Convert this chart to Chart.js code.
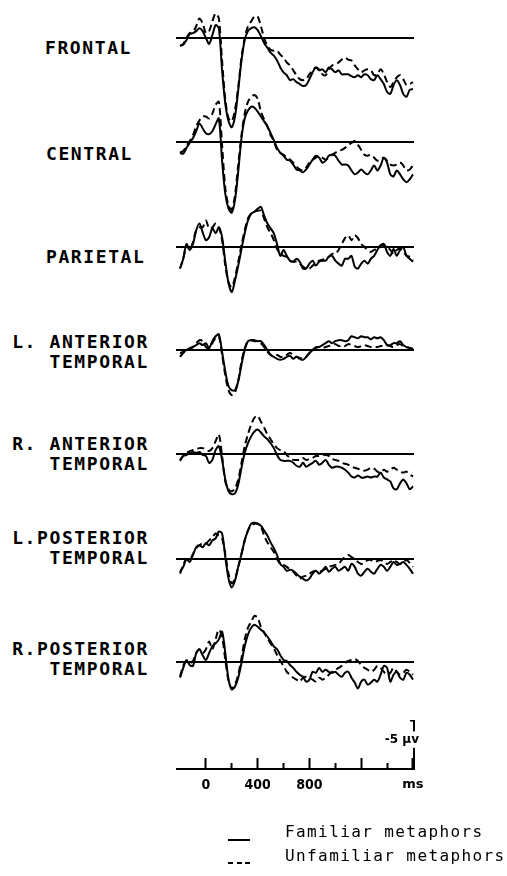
<!DOCTYPE html>
<html>
<head>
<meta charset="utf-8">
<title>ERP waveforms - familiar vs unfamiliar metaphors</title>
<script src="https://cdn.jsdelivr.net/npm/chart.js@4.4.1/dist/chart.umd.min.js"></script>
<style>
  html, body { margin:0; padding:0; background:#fff; }
  #page { position:relative; width:507px; height:876px; overflow:hidden; background:#fff; }
  canvas { position:absolute; left:176px; }
  .lbl { position:absolute; font:bold 18px 'DejaVu Sans Mono', monospace; letter-spacing:1.6px; line-height:20px; white-space:pre; color:#000; }
  .lbl.r { text-align:right; right:358px; }
  .leg { position:absolute; left:285px; font:16px 'DejaVu Sans Mono', monospace; letter-spacing:1.4px; line-height:18px; white-space:pre; color:#000; }
  .sample { position:absolute; left:228px; width:22px; height:2px; }
</style>
</head>
<body>
<div id="page">
  <div class="lbl" style="left:45px;top:38px">FRONTAL</div>
  <div class="lbl" style="left:46px;top:144px">CENTRAL</div>
  <div class="lbl" style="left:46px;top:247px">PARIETAL</div>
  <div class="lbl r" style="top:332px">L. ANTERIOR<br>TEMPORAL</div>
  <div class="lbl r" style="top:434px">R. ANTERIOR<br>TEMPORAL</div>
  <div class="lbl r" style="top:528px">L.POSTERIOR<br>TEMPORAL</div>
  <div class="lbl r" style="top:639px">R.POSTERIOR<br>TEMPORAL</div>

  <canvas id="p0" width="238" height="147" style="top:-11px"></canvas>
  <canvas id="p1" width="238" height="147" style="top:93px"></canvas>
  <canvas id="p2" width="238" height="147" style="top:198px"></canvas>
  <canvas id="p3" width="238" height="147" style="top:301px"></canvas>
  <canvas id="p4" width="238" height="147" style="top:405px"></canvas>
  <canvas id="p5" width="238" height="147" style="top:510px"></canvas>
  <canvas id="p6" width="238" height="147" style="top:613px"></canvas>
  <canvas id="axis" width="258" height="89" style="top:720px"></canvas>

  <div class="sample" style="top:839px;background:#000"></div>
  <div class="leg" style="top:823px">Familiar metaphors</div>
  <div class="sample" style="top:862px;background:repeating-linear-gradient(90deg,#000 0 5px,transparent 5px 8.5px)"></div>
  <div class="leg" style="top:847px">Unfamiliar metaphors</div>
</div>
<script>
// time points (ms), one every 25 ms
const times = [-200,-175,-150,-125,-100,-75,-50,-25,
  0,25,50,75,100,125,150,175,
  200,225,250,275,300,325,350,375,
  400,425,450,475,500,525,550,575,
  600,625,650,675,700,725,750,775,
  800,825,850,875,900,925,950,975,
  1000,1025,1050,1075,1100,1125,1150,1175,
  1200,1225,1250,1275,1300,1325,1350,1375,
  1400,1425,1450,1475,1500,1525,1550,1575,
  1600];

// amplitudes in microvolts (negative plotted up)
const frontalFam = [0.8,0.7,0.2,-0.4,-0.5,-0.7,-1.0,-0.7,
  0.0,0.6,-0.3,-1.3,-1.0,3.3,6.7,8.5,
  9.1,8.0,5.3,2.3,0.2,-0.7,-1.0,-1.1,
  -0.8,-0.2,0.5,1.0,1.5,1.8,2.3,3.0,
  3.5,3.8,4.3,4.2,4.5,4.7,4.9,4.8,
  4.2,3.5,3.0,3.3,3.2,3.5,3.0,3.2,
  3.5,3.3,3.7,3.7,3.7,3.9,4.0,3.8,
  4.0,3.7,3.8,4.2,4.3,3.8,4.2,4.7,
  5.5,5.7,4.8,4.3,4.8,5.7,6.0,5.3,
  5.2];
const frontalUnf = [0.8,0.6,0.0,-0.5,-0.6,-1.2,-2.0,-1.5,
  -0.5,-0.7,-1.7,-2.5,-2.0,2.3,6.3,8.2,
  8.5,7.3,5.0,2.0,0.0,-1.2,-1.7,-2.2,
  -2.2,-1.2,0.0,0.8,1.2,1.3,1.3,1.7,
  2.0,2.5,2.8,3.3,3.8,4.2,4.3,4.2,
  3.7,3.3,3.0,3.2,3.7,3.8,3.2,2.8,
  2.7,2.5,2.2,2.0,2.2,2.3,2.8,3.2,
  3.5,3.3,3.2,3.3,3.8,3.7,3.2,3.7,
  4.5,5.0,4.5,4.0,3.8,4.2,4.8,4.7,
  4.5];
const centralFam = [1.1,1.2,0.6,0.1,-0.4,-1.1,-1.9,-1.4,
  -0.9,-0.8,-1.1,-1.8,-2.4,1.9,5.3,6.8,
  7.2,5.9,3.0,-0.4,-2.4,-3.2,-3.6,-3.5,
  -3.1,-2.6,-2.1,-1.6,-0.9,-0.2,0.6,1.1,
  1.4,1.8,1.9,2.3,2.8,2.9,3.1,2.8,
  2.3,1.8,1.4,1.6,2.1,1.9,1.4,1.3,
  1.4,1.9,2.3,2.3,2.4,2.9,3.3,3.1,
  2.8,3.1,3.3,2.9,2.4,2.9,2.4,1.6,
  2.1,3.3,3.5,2.9,3.3,3.8,4.1,3.8,
  3.3];
const centralUnf = [1.1,0.9,0.4,-0.1,-0.7,-1.6,-2.2,-2.6,
  -2.6,-2.4,-2.9,-3.8,-4.1,0.3,4.7,6.5,
  6.9,5.4,2.3,-0.7,-2.9,-4.1,-4.6,-4.8,
  -4.4,-3.1,-2.3,-1.6,-0.7,-0.1,0.8,1.1,
  1.3,1.6,1.8,2.1,2.5,2.8,2.9,2.6,
  2.1,1.8,1.6,1.4,1.6,1.8,1.6,1.3,
  1.1,0.9,0.8,0.6,0.3,0.1,-0.1,0.3,
  0.8,1.3,1.4,1.3,1.6,1.9,1.8,1.6,
  1.9,2.3,2.4,2.3,2.1,2.4,2.9,2.8,
  2.4];
const parietalFam = [2.2,1.2,-0.3,0.3,-0.3,-1.7,-2.4,-1.5,
  -0.7,-1.0,-1.9,-1.4,-2.0,-1.0,1.5,3.7,
  4.6,3.4,1.9,0.2,-1.4,-2.7,-3.4,-3.6,
  -3.9,-4.1,-3.2,-2.4,-1.9,-1.4,-0.3,0.9,
  0.3,0.9,1.4,1.5,1.2,1.5,2.2,2.2,
  1.7,1.4,1.9,1.5,1.4,1.4,1.0,0.9,
  1.4,1.7,1.9,1.2,1.2,0.9,2.0,2.2,
  1.7,1.4,1.7,1.2,0.9,0.3,-0.2,-0.3,
  0.5,0.9,0.2,0.9,0.3,0.0,0.9,1.2,
  1.5];
const parietalUnf = [2.2,1.2,-0.2,0.3,-0.5,-1.7,-2.0,-2.0,
  -2.7,-1.9,-2.0,-2.4,-2.0,-0.7,1.9,3.6,
  4.1,3.1,1.5,-0.2,-1.7,-2.9,-3.4,-3.6,
  -3.7,-3.7,-2.9,-2.0,-1.4,-0.7,0.2,0.7,
  0.9,1.0,1.4,1.5,1.5,1.7,2.0,2.2,
  2.2,1.9,1.7,1.4,1.3,1.2,1.0,0.7,
  0.7,0.3,-0.3,-0.9,-1.2,-0.7,-1.2,-0.9,
  -0.3,0.0,0.3,0.5,0.3,0.2,0.0,-0.2,
  0.0,0.3,0.7,0.3,0.2,0.5,0.9,1.0,
  1.4];
const lAntTempFam = [0.3,0.2,0.0,-0.2,-0.3,-0.5,-0.7,-0.5,
  -0.7,-0.2,-0.9,-1.4,-1.6,0.2,2.2,3.7,
  4.1,4.1,3.2,1.5,0.0,-0.9,-1.0,-1.0,
  -0.9,-0.9,-0.5,0.0,0.5,0.7,0.9,1.0,
  0.9,0.7,0.6,0.9,0.7,0.9,1.0,0.7,
  0.3,0.0,-0.3,-0.3,-0.5,-0.7,-0.9,-0.7,
  -0.9,-1.0,-1.0,-0.9,-1.0,-1.4,-1.3,-1.2,
  -1.4,-1.3,-1.3,-1.1,-1.3,-1.2,-1.3,-1.0,
  -0.5,-0.5,-0.7,-0.7,-0.9,-0.5,-0.3,-0.2,
  -0.1];
const lAntTempUnf = [0.7,0.3,0.1,-0.1,-0.3,-0.7,-1.0,-0.9,
  -0.3,-0.2,-0.7,-1.2,-1.4,0.5,2.6,4.1,
  4.6,4.3,3.1,1.2,-0.2,-0.9,-1.0,-0.9,
  -0.9,-0.7,-0.3,0.2,0.5,0.7,0.5,0.7,
  0.7,0.5,0.3,0.5,0.7,0.8,0.9,0.7,
  0.3,0.0,-0.2,-0.3,-0.2,-0.3,-0.4,-0.5,
  -0.6,-0.4,-0.5,-0.4,-0.6,-0.5,-0.4,-0.3,
  -0.4,-0.5,-0.4,-0.3,-0.3,-0.3,-0.4,-0.4,
  -0.5,-0.4,-0.3,-0.5,-0.6,-0.4,-0.3,-0.2,
  -0.1];
const rAntTempFam = [0.6,0.2,0.1,-0.1,-0.2,-0.1,-0.2,0.1,
  0.2,0.9,0.6,-0.4,-0.8,0.6,2.6,3.8,
  4.1,4.0,3.1,1.4,-0.1,-1.1,-1.8,-2.3,
  -2.5,-2.2,-1.8,-1.5,-1.1,-0.6,0.1,0.6,
  0.7,0.7,0.7,0.9,1.2,1.3,0.9,1.3,
  1.1,0.9,0.7,1.1,0.9,0.6,1.1,1.4,
  1.3,1.3,1.4,1.6,1.9,2.3,2.4,2.2,
  2.4,2.4,2.3,2.4,2.3,2.3,1.9,2.4,
  2.6,2.8,3.5,3.6,3.0,2.6,3.0,3.6,
  3.3];
const rAntTempUnf = [0.7,0.2,-0.1,-0.3,-0.4,-0.5,-0.6,-0.6,
  -0.5,-0.3,-0.6,-1.3,-2.0,0.2,2.8,3.6,
  3.8,3.5,2.6,0.9,-0.8,-2.0,-3.0,-3.7,
  -3.9,-3.3,-2.7,-2.0,-1.5,-1.0,-0.6,-0.4,
  -0.3,0.1,0.4,0.6,0.6,0.6,0.4,0.6,
  0.5,0.4,0.2,0.2,0.1,0.1,0.2,0.5,
  0.6,0.7,0.9,1.0,1.1,1.3,1.4,1.5,
  1.6,1.7,1.6,1.4,1.5,1.8,1.9,1.6,
  1.8,1.6,1.4,1.6,1.8,1.9,1.8,2.1,
  2.3];
const lPostTempFam = [1.3,0.8,0.0,0.3,-0.4,-1.2,-1.4,-1.2,
  -1.6,-1.4,-1.9,-2.1,-2.8,-2.6,-0.2,2.0,
  2.9,2.2,0.8,-0.5,-1.9,-2.9,-3.6,-3.7,
  -3.6,-3.4,-2.9,-2.4,-1.7,-1.1,-0.4,0.5,
  0.8,1.2,1.1,1.2,1.5,1.8,2.0,2.2,
  2.0,1.5,1.2,1.5,1.2,0.8,1.3,1.0,
  0.8,1.2,1.0,0.8,1.2,0.5,0.8,1.5,
  1.7,1.3,1.0,1.3,1.5,1.0,0.6,0.8,
  1.2,0.8,0.3,0.6,0.5,0.3,0.6,1.0,
  1.5];
const lPostTempUnf = [1.5,0.6,0.0,0.1,-0.5,-1.1,-1.4,-1.6,
  -1.6,-1.9,-2.2,-2.6,-2.4,-2.1,-0.5,1.5,
  2.5,2.0,0.8,-0.5,-1.9,-2.9,-3.4,-3.6,
  -3.6,-3.3,-2.4,-1.7,-1.2,-0.7,0.0,0.5,
  0.6,0.8,1.1,1.3,1.7,2.0,1.8,1.7,
  1.5,1.3,1.2,1.3,1.2,1.0,0.8,0.7,
  0.6,0.5,0.1,-0.2,-0.4,-0.2,0.0,0.3,
  0.5,0.4,0.1,0.1,0.3,0.2,0.1,0.3,
  0.5,0.3,0.1,0.3,0.5,0.3,0.1,0.4,
  0.8];
const rPostTempFam = [1.6,0.6,-0.2,0.3,0.4,-0.9,-1.3,-0.7,
  -0.2,-0.9,-1.6,-1.9,-2.3,-3.1,-0.9,1.8,
  2.8,2.5,1.6,0.1,-1.6,-2.8,-3.5,-3.8,
  -3.6,-3.3,-3.0,-2.6,-2.1,-1.6,-1.3,-0.7,
  -0.2,-0.1,0.3,0.6,1.0,1.3,1.5,2.0,
  1.8,1.0,1.1,0.6,1.0,0.8,1.0,1.1,
  1.0,1.3,1.5,1.1,1.0,1.6,2.1,2.7,
  2.0,1.8,2.3,2.1,1.8,2.0,1.3,0.4,
  0.6,2.0,1.3,1.0,1.6,1.8,1.1,1.3,
  1.8];
const rPostTempUnf = [1.5,0.4,-0.1,0.1,-0.1,-0.9,-1.3,-0.9,
  -1.3,-2.1,-1.3,-2.3,-3.3,-2.6,-0.2,1.9,
  2.7,2.3,1.3,-0.4,-2.3,-3.5,-4.1,-4.7,
  -4.5,-3.6,-3.0,-2.4,-1.9,-1.4,-0.7,-0.1,
  0.4,1.0,1.3,1.6,1.8,2.0,1.6,1.5,
  1.6,1.8,2.0,1.6,1.8,1.6,1.3,1.0,
  0.8,0.6,0.4,0.1,-0.1,-0.2,-0.3,-0.1,
  0.3,0.6,0.8,1.0,0.8,0.4,0.6,1.0,
  1.3,1.1,0.6,1.0,1.3,1.1,0.8,1.0,
  1.3];

// time axis and calibration bar
const majorTicks = [0, 400, 800, 1200, 1600];
const majorLabels = ['0', '400', '800', '', 'ms'];
const minorTicks = [200, 600, 1000, 1400];
const scaleBarUV = -5;
const scaleBarLabelAt = -3;
const scaleBarText = '-5 \u00b5v';

const X_MIN = -231, X_MAX = 1608;

function pts(vals){ return times.map((t,i)=>({x:t, y:vals[i]})); }
function noPad(s){ s.paddingLeft = 0; s.paddingRight = 0; s.paddingTop = 0; s.paddingBottom = 0; }

function drawPanel(id, fam, unf){
  new Chart(document.getElementById(id), {
    type:'line',
    data:{ datasets:[
      {label:'Familiar metaphors', data:pts(fam), borderColor:'#000', borderWidth:2, pointRadius:0, tension:0.3},
      {label:'Unfamiliar metaphors', data:pts(unf), borderColor:'#000', borderWidth:2, borderDash:[7,4], pointRadius:0, tension:0.3}
    ]},
    options:{
      responsive:false, animation:false, events:[],
      layout:{padding:0, autoPadding:false},
      plugins:{legend:{display:false}, tooltip:{enabled:false}},
      scales:{
        x:{type:'linear', min:X_MIN, max:X_MAX, display:false},
        y:{min:-5, max:10, reverse:true,
           afterFit:s=>{ s.width = 0; noPad(s); },
           ticks:{display:false, stepSize:5},
           border:{display:false},
           grid:{drawTicks:false, lineWidth:2, color:c=>(c.tick && c.tick.value===0) ? '#000' : 'rgba(0,0,0,0)'}}
      }
    }
  });
}

drawPanel('p0', frontalFam, frontalUnf);
drawPanel('p1', centralFam, centralUnf);
drawPanel('p2', parietalFam, parietalUnf);
drawPanel('p3', lAntTempFam, lAntTempUnf);
drawPanel('p4', rAntTempFam, rAntTempUnf);
drawPanel('p5', lPostTempFam, lPostTempUnf);
drawPanel('p6', rPostTempFam, rPostTempUnf);

// time axis with upward ticks, plus the -5 uV calibration bar on the right
new Chart(document.getElementById('axis'), {
  type:'line',
  data:{ datasets:[] },
  options:{
    responsive:false, animation:false, events:[],
    layout:{padding:{left:0, top:0, bottom:0, right:20}, autoPadding:false},
    plugins:{legend:{display:false}, tooltip:{enabled:false}},
    scales:{
      xm:{type:'linear', position:'bottom', weight:0, min:X_MIN, max:X_MAX,
        afterBuildTicks:s=>{ s.ticks = minorTicks.map(v=>({value:v})); },
        afterFit:s=>{ s.height = 0; noPad(s); },
        border:{display:false},
        grid:{drawOnChartArea:false, tickLength:-6, tickWidth:2, tickColor:'#000'},
        ticks:{display:false}},
      x:{type:'linear', position:'bottom', weight:1, min:X_MIN, max:X_MAX,
        afterBuildTicks:s=>{ s.ticks = majorTicks.map(v=>({value:v})); },
        afterFit:s=>{ s.height = 40; noPad(s); },
        border:{display:true, color:'#000', width:2},
        grid:{drawOnChartArea:false, tickLength:-11, tickWidth:2, tickColor:'#000'},
        ticks:{autoSkip:false, maxRotation:0, padding:19, color:'#000',
          callback:(v,i)=>majorLabels[i],
          font:c=>(c.tick && c.tick.value===1600)
            ? {family:"'DejaVu Sans', sans-serif", size:13, weight:'bold'}
            : {family:"'DejaVu Sans Condensed', 'Liberation Sans Narrow', 'DejaVu Sans', sans-serif", size:14, weight:'bold'}}},
      y:{position:'right', min:scaleBarUV, max:0, reverse:true,
        afterBuildTicks:s=>{ s.ticks = [{value:scaleBarUV},{value:scaleBarLabelAt}]; },
        afterFit:s=>{ s.width = 0; noPad(s); },
        border:{display:true, color:'#000', width:2},
        grid:{drawOnChartArea:false, tickLength:-4, tickWidth:2,
          tickColor:c=>(c.tick && c.tick.value===scaleBarUV) ? '#000' : 'rgba(0,0,0,0)'},
        ticks:{mirror:true, padding:5, color:'#000',
          font:{family:"'DejaVu Sans', sans-serif", size:12, weight:'bold'},
          callback:v=>v===scaleBarLabelAt ? scaleBarText : '',
          showLabelBackdrop:c=>!!(c.tick && c.tick.value===scaleBarLabelAt),
          backdropColor:c=>(c.tick && c.tick.value===scaleBarLabelAt) ? '#fff' : 'rgba(0,0,0,0)',
          backdropPadding:{top:1, bottom:1, left:1, right:2}}}
    }
  }
});
</script>
</body>
</html>
